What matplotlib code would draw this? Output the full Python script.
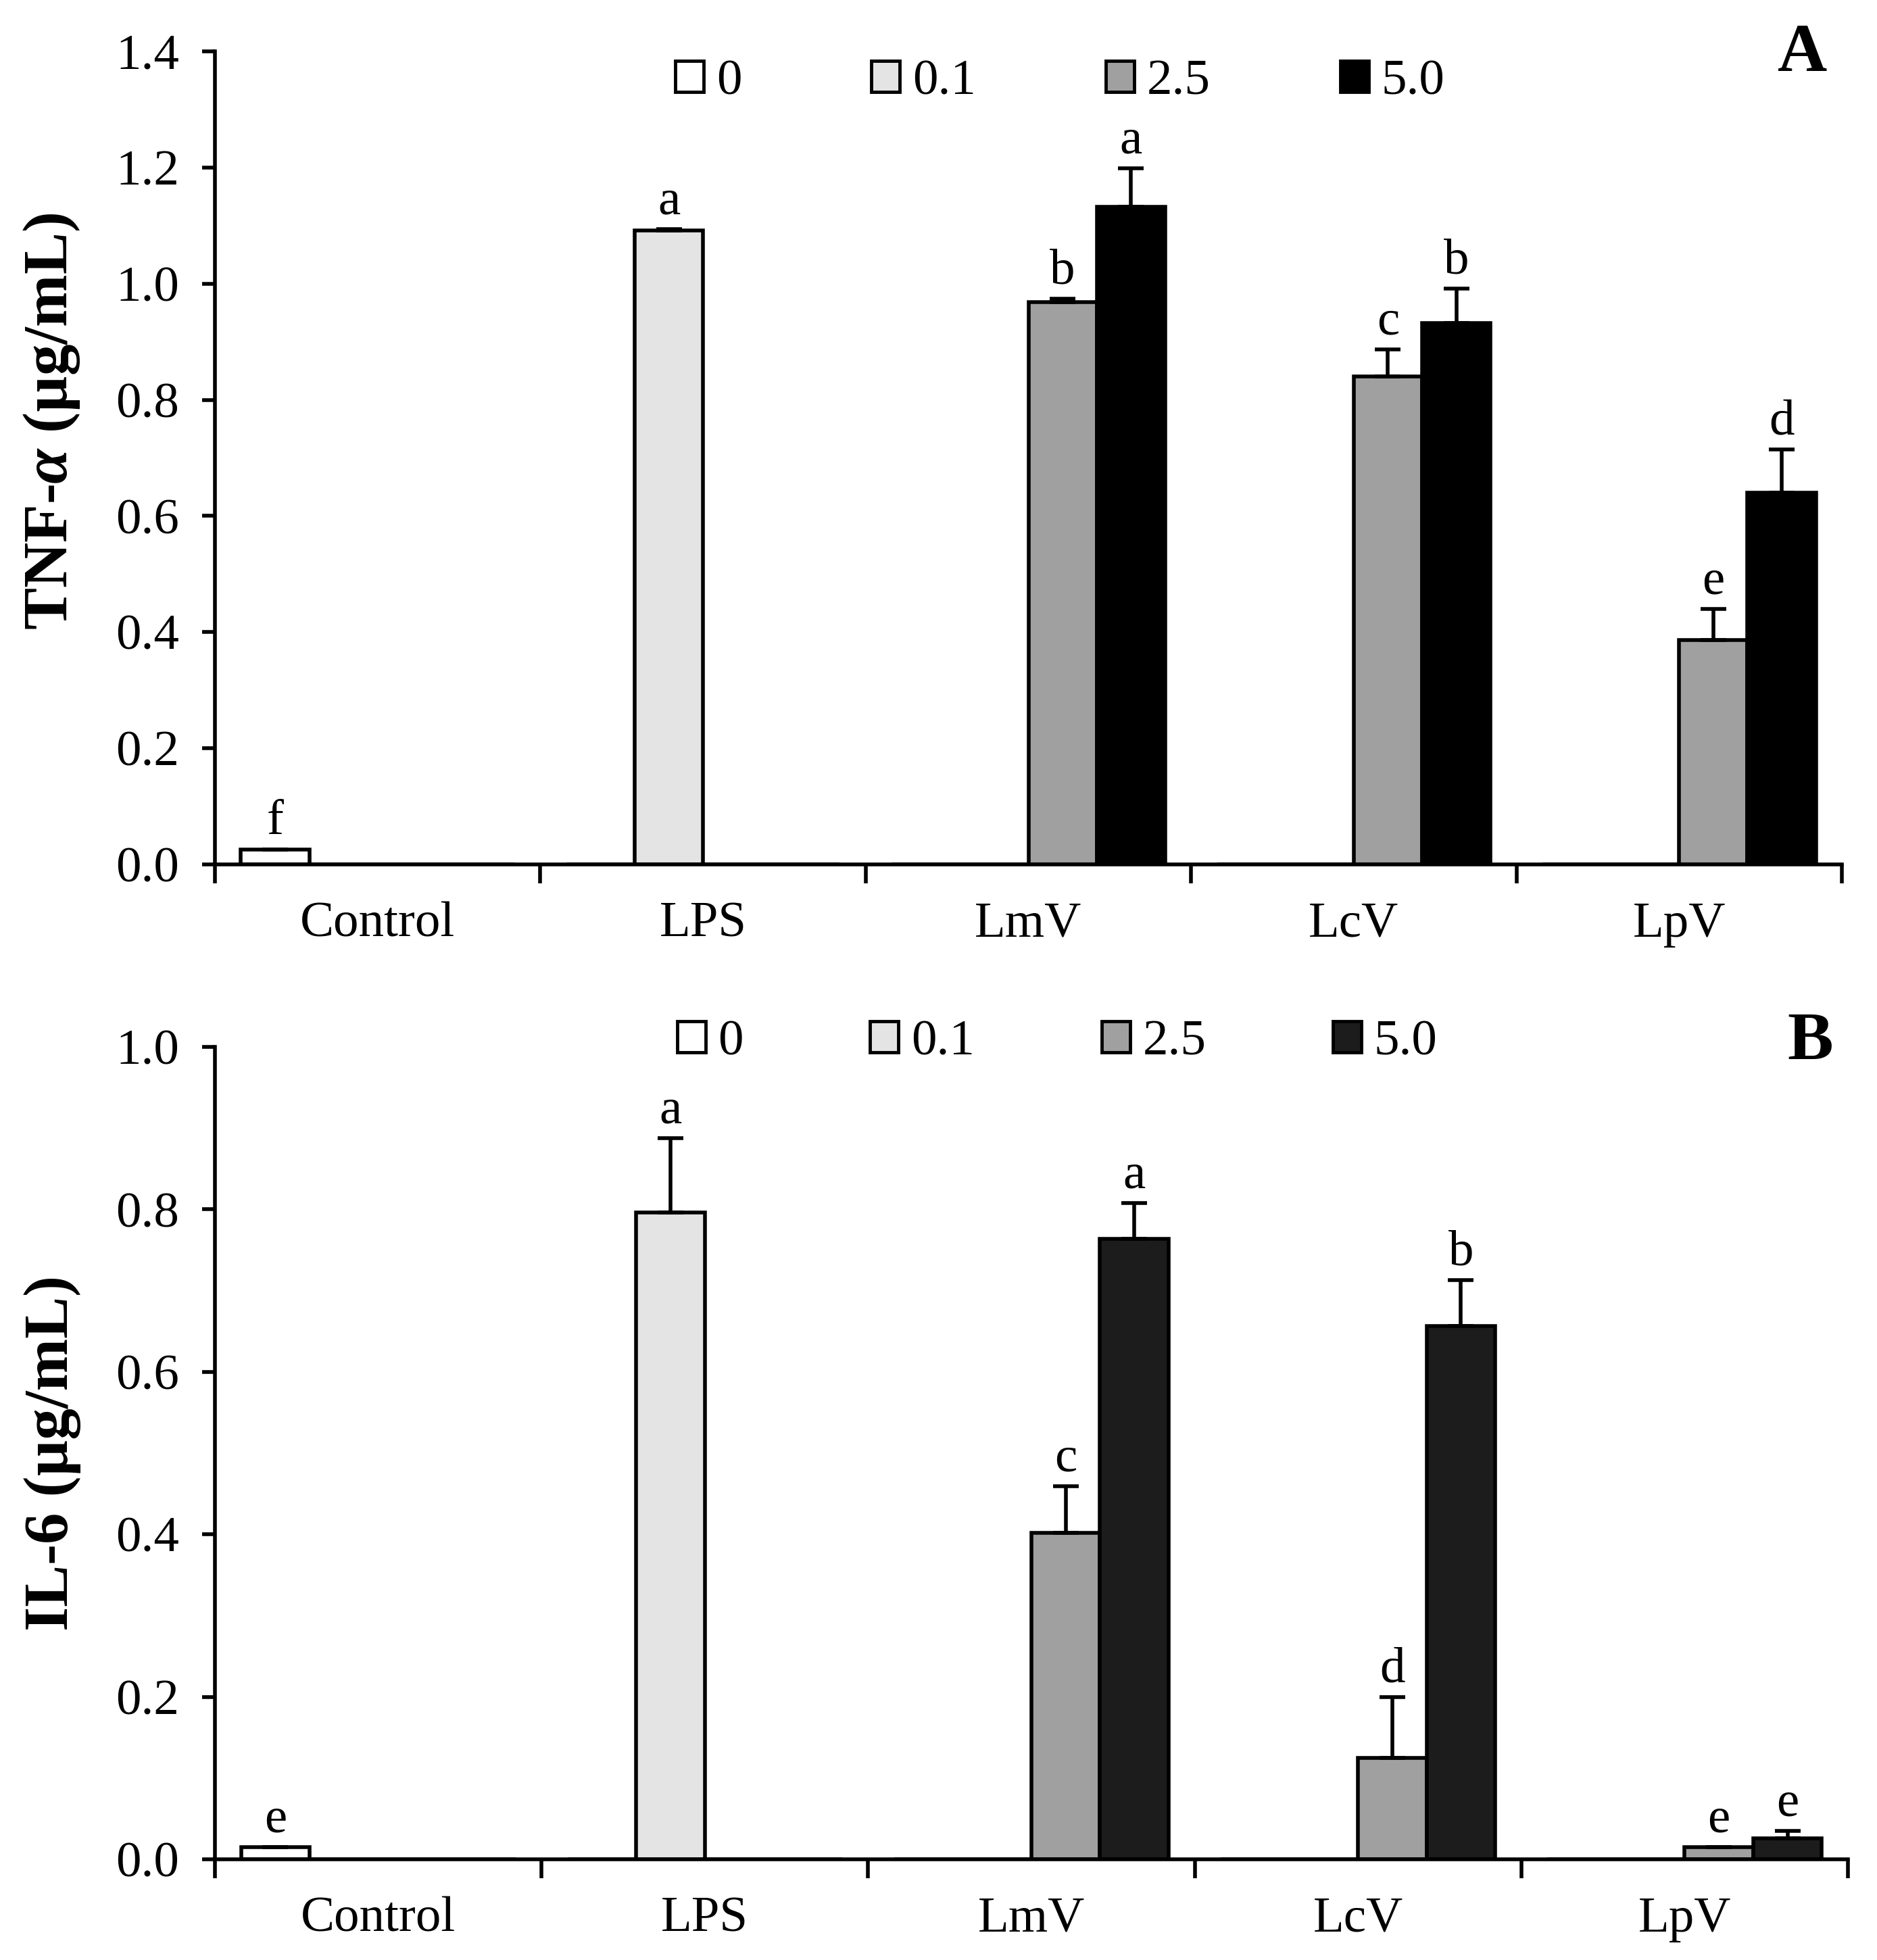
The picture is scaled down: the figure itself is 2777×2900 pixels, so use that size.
import numpy as np
import matplotlib.pyplot as plt
from matplotlib.patches import Patch

plt.rcParams['font.family'] = ['Liberation Serif', 'DejaVu Serif']
plt.rcParams['mathtext.fontset'] = 'custom'
plt.rcParams['mathtext.it'] = 'Liberation Serif:italic:bold'
plt.rcParams['mathtext.rm'] = 'Liberation Serif:bold'

groups = ['Control', 'LPS', 'LmV', 'LcV', 'LpV']
doses = ['0', '0.1', '2.5', '5.0']

# panel A: TNF-alpha, rows = dose, cols = group (nan = no bar)
tnf = np.array([
    [0.026, np.nan, np.nan, np.nan, np.nan],
    [np.nan, 1.092, np.nan, np.nan, np.nan],
    [np.nan, np.nan, 0.968, 0.840, 0.386],
    [np.nan, np.nan, 1.132, 0.932, 0.640],
])
tnf_err = np.array([
    [0.0, np.nan, np.nan, np.nan, np.nan],
    [np.nan, 0.002, np.nan, np.nan, np.nan],
    [np.nan, np.nan, 0.006, 0.047, 0.054],
    [np.nan, np.nan, 0.067, 0.060, 0.075],
])
tnf_let = [
    ['f', '', '', '', ''],
    ['', 'a', '', '', ''],
    ['', '', 'b', 'c', 'e'],
    ['', '', 'a', 'b', 'd'],
]

# panel B: IL-6
il6 = np.array([
    [0.015, np.nan, np.nan, np.nan, np.nan],
    [np.nan, 0.796, np.nan, np.nan, np.nan],
    [np.nan, np.nan, 0.402, 0.125, 0.015],
    [np.nan, np.nan, 0.764, 0.656, 0.026],
])
il6_err = np.array([
    [0.0, np.nan, np.nan, np.nan, np.nan],
    [np.nan, 0.092, np.nan, np.nan, np.nan],
    [np.nan, np.nan, 0.057, 0.075, 0.0],
    [np.nan, np.nan, 0.044, 0.057, 0.009],
])
il6_let = [
    ['e', '', '', '', ''],
    ['', 'a', '', '', ''],
    ['', '', 'c', 'd', 'e'],
    ['', '', 'a', 'b', 'e'],
]

FS = 54
width = 0.21


def panel(ax, vals, errs, lets, colors, ymax, ylabel, ylab_y, tag, tag_y, leg_y, colsp):
    x = np.arange(len(groups))
    for i in range(len(doses)):
        xi = x + (i - 1.5) * width
        v = vals[i]
        ax.bar(xi, np.nan_to_num(v), width, color=colors[i], edgecolor='black',
               linewidth=4, zorder=2)
        m = ~np.isnan(v)
        ax.errorbar(xi[m], v[m], yerr=[np.zeros(m.sum()), errs[i][m]], fmt='none',
                    ecolor='black', elinewidth=4, capsize=14, capthick=4, zorder=3)
        for j in np.where(m)[0]:
            ax.annotate(lets[i][j], (xi[j], v[j] + errs[i][j]), xytext=(0, 16),
                        textcoords='offset points', ha='center', va='baseline',
                        fontsize=FS)
    ax.set_xlim(-0.5, len(groups) - 0.5)
    ax.set_ylim(0, ymax)
    yt = np.arange(0, ymax + 1e-9, 0.2)
    ax.set_yticks(yt)
    ax.set_yticklabels(['%.1f' % t for t in yt])
    ax.set_xticks(np.arange(-0.5, len(groups)), minor=False)
    ax.set_xticklabels([])
    ax.set_xticks(x, minor=True)
    ax.set_xticklabels(groups, minor=True)
    ax.tick_params(axis='x', which='major', direction='out', length=20, width=4)
    ax.tick_params(axis='x', which='minor', length=0, pad=40, labelsize=FS)
    ax.tick_params(axis='y', direction='out', length=14, width=4, labelsize=FS, pad=24)
    for s in ['top', 'right']:
        ax.spines[s].set_visible(False)
    for s in ['left', 'bottom']:
        ax.spines[s].set_linewidth(4)
    ax.set_ylabel(ylabel, fontsize=67, fontweight='bold')
    ax.yaxis.set_label_coords(-0.082, ylab_y)
    handles = [Patch(facecolor=colors[i], edgecolor='black', linewidth=3.5) for i in range(4)]
    ax.legend(handles, doses, loc='center left', bbox_to_anchor=(0.283, leg_y), ncol=4,
              frameon=False, fontsize=FS, handlelength=0.56, handleheight=0.56,
              handletextpad=0.25, columnspacing=colsp, borderpad=0, borderaxespad=0)
    ax.text(0.991, tag_y, tag, transform=ax.transAxes, ha='right', va='baseline',
            fontsize=73, fontweight='bold')


fig = plt.figure(figsize=(27.77, 29.0), dpi=100)
axA = fig.add_axes([0.1145, 0.559, 0.8668, 0.4148])
axB = fig.add_axes([0.1145, 0.0514, 0.870, 0.4145])

panel(axA, tnf, tnf_err, tnf_let, ['white', '#e4e4e4', '#a0a0a0', 'black'],
      1.4, 'TNF-$\\mathit{α}$ (µg/mL)', 0.545, 'A', 0.976, 0.962, 2.56)
panel(axB, il6, il6_err, il6_let, ['white', '#e4e4e4', '#a0a0a0', '#1c1c1c'],
      1.0, 'IL-6 (µg/mL)', 0.5, 'B', 0.984, 1.005, 2.5)

fig.savefig('out.png', dpi=100)
